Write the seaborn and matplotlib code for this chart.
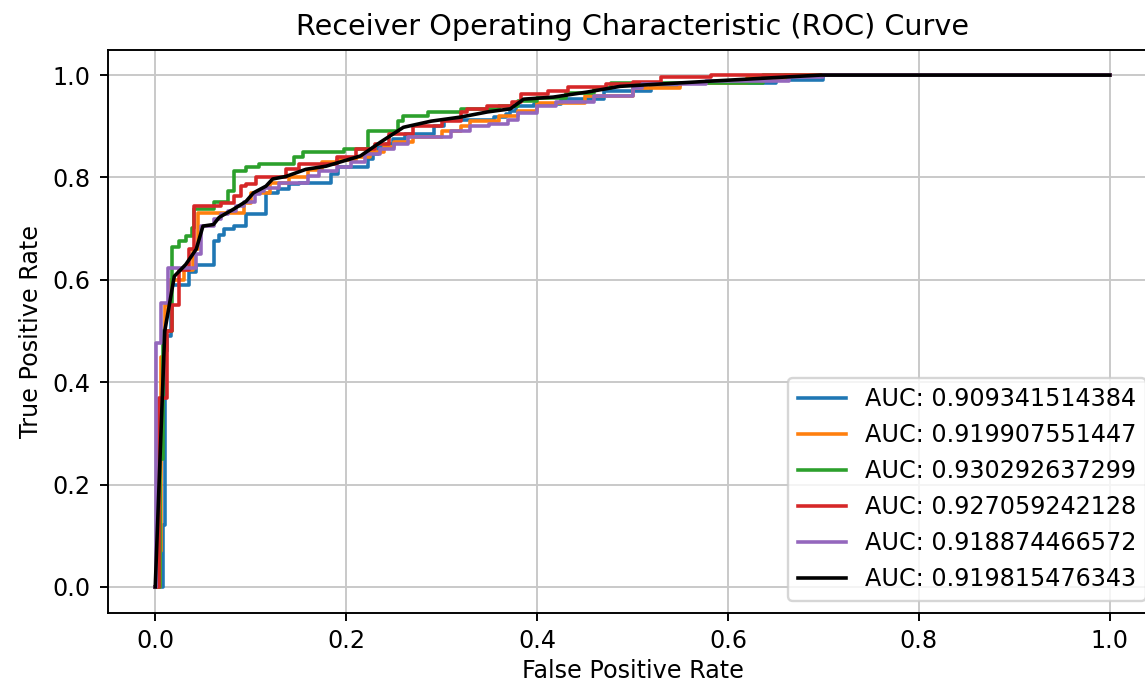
import numpy as np
import pandas as pd
import matplotlib
matplotlib.use('Agg')
import matplotlib.pyplot as plt
import seaborn as sns

# ROC points per fold, step curves
fpr_0 = [0, 0.008, 0.010, 0.012, 0.016, 0.035, 0.043, 0.062, 0.067, 0.072, 0.083, 0.095, 0.116, 0.129, 0.140,
         0.151, 0.184, 0.191, 0.223, 0.228, 0.233, 0.242, 0.249, 0.262, 0.292, 0.302, 0.355, 0.367, 0.372,
         0.378, 0.397, 0.425, 0.470, 0.519, 0.550, 0.650, 0.700, 1.0]
tpr_0 = [0, 0.12, 0.46, 0.49, 0.59, 0.615, 0.628, 0.675, 0.687, 0.700, 0.706, 0.728, 0.769, 0.777, 0.787,
         0.790, 0.806, 0.820, 0.836, 0.845, 0.859, 0.865, 0.875, 0.885, 0.900, 0.912, 0.918, 0.924, 0.930,
         0.940, 0.943, 0.953, 0.969, 0.978, 0.985, 0.990, 1.0, 1.0]

fpr_1 = [0, 0.005, 0.006, 0.010, 0.015, 0.030, 0.040, 0.045, 0.093, 0.100, 0.120, 0.140, 0.160, 0.175, 0.190,
         0.210, 0.225, 0.240, 0.250, 0.270, 0.300, 0.320, 0.330, 0.360, 0.380, 0.400, 0.450, 0.500, 0.550,
         0.620, 0.660, 1.0]
tpr_1 = [0, 0.07, 0.45, 0.55, 0.60, 0.62, 0.66, 0.73, 0.75, 0.77, 0.79, 0.80, 0.815, 0.83, 0.835,
         0.84, 0.85, 0.86, 0.87, 0.88, 0.89, 0.90, 0.91, 0.92, 0.93, 0.945, 0.96, 0.975, 0.985,
         0.995, 1.0, 1.0]

fpr_2 = [0, 0.005, 0.008, 0.018, 0.025, 0.032, 0.038, 0.041, 0.062, 0.076, 0.083, 0.095, 0.109, 0.145, 0.155,
         0.198, 0.223, 0.254, 0.260, 0.286, 0.320, 0.360, 0.380, 0.400, 0.430, 0.460, 0.477, 0.637, 1.0]
tpr_2 = [0, 0.25, 0.50, 0.665, 0.675, 0.685, 0.702, 0.738, 0.753, 0.773, 0.812, 0.820, 0.826, 0.840, 0.849,
         0.855, 0.890, 0.910, 0.920, 0.928, 0.934, 0.940, 0.950, 0.955, 0.965, 0.975, 0.984, 1.0, 1.0]

fpr_3 = [0, 0.004, 0.012, 0.018, 0.025, 0.035, 0.041, 0.069, 0.083, 0.090, 0.095, 0.106, 0.137, 0.151, 0.190,
         0.210, 0.230, 0.245, 0.270, 0.300, 0.320, 0.327, 0.348, 0.374, 0.383, 0.411, 0.432, 0.472, 0.500,
         0.530, 0.582, 1.0]
tpr_3 = [0, 0.37, 0.50, 0.55, 0.62, 0.66, 0.744, 0.751, 0.763, 0.783, 0.787, 0.800, 0.816, 0.826, 0.840,
         0.855, 0.865, 0.885, 0.900, 0.910, 0.928, 0.934, 0.940, 0.947, 0.963, 0.969, 0.977, 0.982, 0.986,
         0.996, 1.0, 1.0]

fpr_4 = [0, 0.001, 0.006, 0.013, 0.043, 0.048, 0.062, 0.069, 0.076, 0.085, 0.093, 0.104, 0.110, 0.114, 0.130,
         0.160, 0.172, 0.190, 0.205, 0.220, 0.235, 0.250, 0.265, 0.310, 0.330, 0.350, 0.370, 0.380, 0.400,
         0.420, 0.460, 0.500, 0.510, 0.577, 0.664, 0.700, 1.0]
tpr_4 = [0, 0.477, 0.555, 0.624, 0.650, 0.705, 0.718, 0.728, 0.734, 0.744, 0.753, 0.767, 0.773, 0.780, 0.790,
         0.802, 0.812, 0.820, 0.830, 0.845, 0.855, 0.865, 0.880, 0.890, 0.900, 0.905, 0.912, 0.925, 0.940,
         0.947, 0.960, 0.975, 0.982, 0.988, 0.996, 1.0, 1.0]

# mean curve
fpr_mean = [0, 0.010, 0.020, 0.032, 0.043, 0.050, 0.061, 0.067, 0.082, 0.095, 0.103, 0.116, 0.123, 0.137, 0.158,
            0.179, 0.215, 0.236, 0.260, 0.289, 0.320, 0.348, 0.372, 0.386, 0.417, 0.453, 0.487, 0.580, 0.697, 1.0]
tpr_mean = [0, 0.50, 0.607, 0.630, 0.660, 0.705, 0.708, 0.722, 0.738, 0.753, 0.770, 0.783, 0.797, 0.802, 0.816,
            0.822, 0.842, 0.869, 0.898, 0.910, 0.918, 0.928, 0.934, 0.953, 0.957, 0.967, 0.978, 0.988, 1.0, 1.0]

auc_labels = ['AUC: 0.909341514384', 'AUC: 0.919907551447', 'AUC: 0.930292637299',
              'AUC: 0.927059242128', 'AUC: 0.918874466572', 'AUC: 0.919815476343']

folds = [(fpr_0, tpr_0), (fpr_1, tpr_1), (fpr_2, tpr_2), (fpr_3, tpr_3), (fpr_4, tpr_4)]
colors = ['#1f77b4', '#ff7f0e', '#2ca02c', '#d62728', '#9467bd']

DPI = 172
fig = plt.figure(figsize=(1145/DPI, 682/DPI), dpi=DPI)
ax = fig.add_axes([107.5/1145, 1-612.5/682, 1050/1145, 563/682])

for (f, t), c, lab in zip(folds, colors, auc_labels[:5]):
    df = pd.DataFrame({'fpr': f, 'tpr': t})
    sns.lineplot(data=df, x='fpr', y='tpr', ax=ax, color=c, label=lab,
                 drawstyle='steps-post', sort=False, estimator=None, lw=1.5)

dfm = pd.DataFrame({'fpr': fpr_mean, 'tpr': tpr_mean})
sns.lineplot(data=dfm, x='fpr', y='tpr', ax=ax, color='black', label=auc_labels[5],
             sort=False, estimator=None, lw=1.5)

ax.set_xlim(-0.05, 1.05)
ax.set_ylim(-0.05, 1.05)
ax.set_xticks([0.0, 0.2, 0.4, 0.6, 0.8, 1.0])
ax.set_yticks([0.0, 0.2, 0.4, 0.6, 0.8, 1.0])
ax.grid(True, color='#c8c8c8')
ax.set_xlabel('False Positive Rate', labelpad=2.5)
ax.set_ylabel('True Positive Rate')
ax.set_title('Receiver Operating Characteristic (ROC) Curve')
ax.legend(loc='lower right')

fig.savefig('out.png', dpi=DPI)
